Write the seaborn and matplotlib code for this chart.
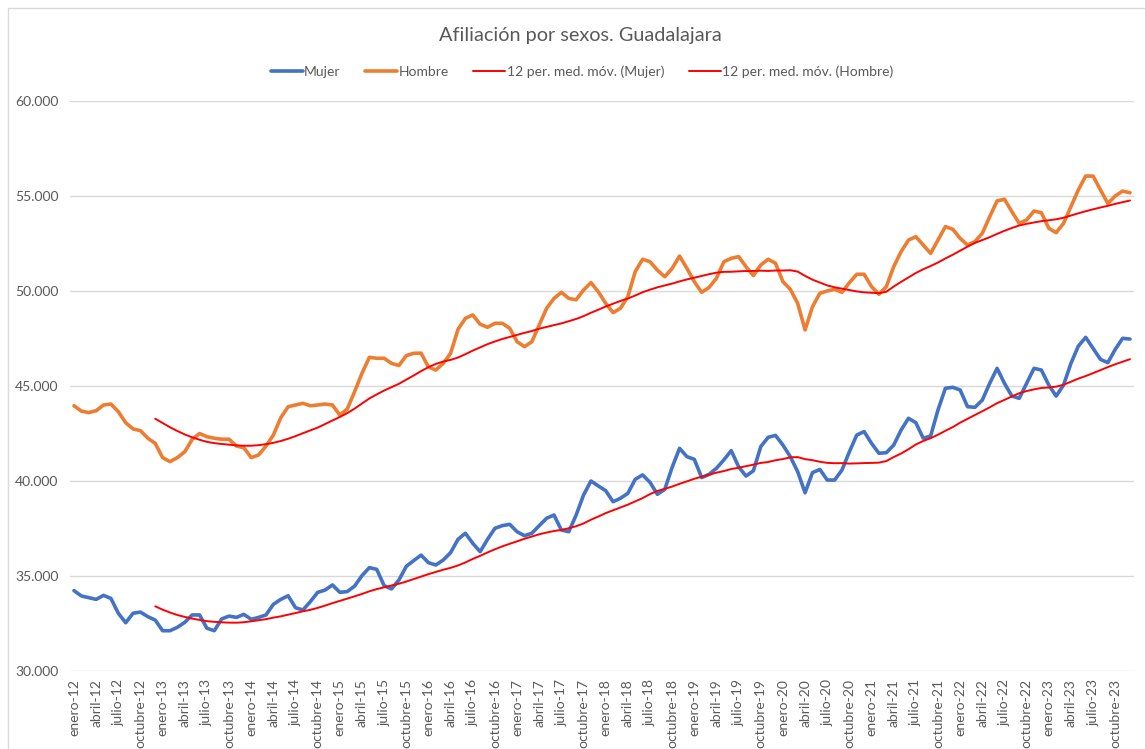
import matplotlib
matplotlib.use("Agg")
import matplotlib.pyplot as plt
import seaborn as sns
import pandas as pd
from matplotlib.patches import Rectangle
from matplotlib.ticker import FuncFormatter

# datos (afiliados), enero-12 .. diciembre-23
meses = ["enero", "febrero", "marzo", "abril", "mayo", "junio", "julio",
         "agosto", "septiembre", "octubre", "noviembre", "diciembre"]
anios = ["12", "13", "14", "15", "16", "17", "18", "19", "20", "21", "22", "23"]

mujer = [34230, 33950, 33860, 33770, 33980, 33820, 33040, 32540, 33040, 33100, 32860, 32680,
         32120, 32120, 32300, 32560, 32950, 32950, 32250, 32120, 32740, 32890, 32820, 32980,
         32720, 32820, 32950, 33510, 33770, 33960, 33330, 33210, 33650, 34140, 34260, 34530,
         34140, 34180, 34470, 35020, 35440, 35350, 34490, 34320, 34790, 35510, 35810, 36100,
         35700, 35580, 35840, 36230, 36930, 37250, 36720, 36280, 36930, 37510, 37650, 37720,
         37330, 37120, 37250, 37650, 38040, 38210, 37420, 37330, 38210, 39260, 40000, 39740,
         39490, 38910, 39090, 39350, 40090, 40320, 39930, 39300, 39560, 40720, 41720, 41280,
         41140, 40180, 40350, 40670, 41110, 41600, 40750, 40260, 40540, 41810, 42300, 42400,
         41890, 41280, 40490, 39380, 40440, 40610, 40050, 40050, 40580, 41540, 42420, 42600,
         41980, 41460, 41490, 41890, 42680, 43300, 43070, 42250, 42370, 43740, 44880, 44930,
         44790, 43910, 43880, 44260, 45140, 45930, 45140, 44470, 44350, 45140, 45930, 45840,
         45050, 44470, 45050, 46190, 47100, 47560, 46980, 46400, 46230, 46930, 47510, 47470]

hombre = [43960, 43680, 43600, 43700, 44000, 44050, 43650, 43070, 42740, 42650, 42250, 41980,
          41230, 41020, 41230, 41540, 42190, 42500, 42330, 42250, 42200, 42200, 41840, 41750,
          41230, 41370, 41840, 42420, 43330, 43910, 44000, 44090, 43960, 44000, 44050, 44000,
          43470, 43790, 44700, 45670, 46510, 46460, 46460, 46190, 46080, 46600, 46720, 46730,
          46000, 45840, 46190, 46720, 47980, 48560, 48740, 48250, 48090, 48300, 48300, 48040,
          47330, 47070, 47330, 48210, 49090, 49610, 49930, 49610, 49540, 50050, 50440, 49960,
          49350, 48860, 49090, 49700, 51020, 51670, 51540, 51100, 50750, 51190, 51840, 51190,
          50490, 49930, 50190, 50670, 51540, 51720, 51810, 51280, 50810, 51370, 51670, 51460,
          50490, 50090, 49350, 47950, 49170, 49880, 50000, 50090, 49930, 50440, 50880, 50880,
          50230, 49830, 50230, 51280, 52070, 52680, 52860, 52420, 51980, 52680, 53390, 53250,
          52770, 52420, 52600, 53040, 53910, 54740, 54830, 54180, 53560, 53740, 54210, 54120,
          53300, 53070, 53560, 54440, 55320, 56050, 56050, 55320, 54610, 55000, 55260, 55170]

etiquetas = [m + "-" + a for a in anios for m in meses]

df = pd.DataFrame({"pos": range(len(mujer)), "Mujer": mujer, "Hombre": hombre})
# media movil de 12 periodos (linea de tendencia de Excel)
df["mm_mujer"] = df["Mujer"].rolling(12).mean()
df["mm_hombre"] = df["Hombre"].rolling(12).mean()

sns.set_style("white")
plt.rcParams["font.family"] = ["Lato", "DejaVu Sans"]
gris = "#595959"

fig = plt.figure(figsize=(11.45, 7.49), dpi=100)
# borde del area del grafico
fig.patches.append(Rectangle((8 / 1145, -0.05), 1.1, 1 - 8 / 749 + 0.05,
                             transform=fig.transFigure, fill=False,
                             edgecolor="#D9D9D9", lw=1))
ax = fig.add_axes([70.3 / 1145, 1 - 671 / 749, (1133.7 - 70.3) / 1145, 570 / 749])

sns.lineplot(data=df, x="pos", y="Mujer", ax=ax, color="#4472C4", lw=2.6, label="Mujer")
sns.lineplot(data=df, x="pos", y="Hombre", ax=ax, color="#ED7D31", lw=2.6, label="Hombre")
sns.lineplot(data=df, x="pos", y="mm_mujer", ax=ax, color="#FF0000", lw=1.4,
             label="12 per. med. móv. (Mujer)")
sns.lineplot(data=df, x="pos", y="mm_hombre", ax=ax, color="#FF0000", lw=1.4,
             label="12 per. med. móv. (Hombre)")

ax.set_xlim(-0.5, len(mujer) - 0.5)
ax.set_ylim(30000, 60000)
ax.set_yticks(range(30000, 60001, 5000))
ax.yaxis.set_major_formatter(FuncFormatter(lambda v, p: f"{v:,.0f}".replace(",", ".")))
ax.set_xticks(range(0, len(mujer), 3))
ax.set_xticklabels(etiquetas[::3], rotation=90)
ax.tick_params(axis="both", length=0, colors=gris, labelsize=10)
ax.tick_params(axis="y", pad=8.5)
ax.tick_params(axis="x", pad=6)
ax.set_xlabel("")
ax.set_ylabel("")
ax.grid(axis="y", color="#D9D9D9", lw=1)
ax.set_axisbelow(True)
for s in ax.spines.values():
    s.set_visible(False)

ax.get_legend().remove()
h, l = ax.get_legend_handles_labels()
fig.legend(h, l, loc="center", bbox_to_anchor=(582 / 1145, 1 - 72 / 749), ncol=4,
           frameon=False, fontsize=10, labelcolor=gris, handlelength=2.3,
           handletextpad=0.12, columnspacing=1.75)

fig.text(580 / 1145, 1 - 35 / 749, "Afiliación por sexos. Guadalajara", ha="center",
         va="center", fontsize=14.3, color=gris)

fig.savefig("out.png", dpi=100)
